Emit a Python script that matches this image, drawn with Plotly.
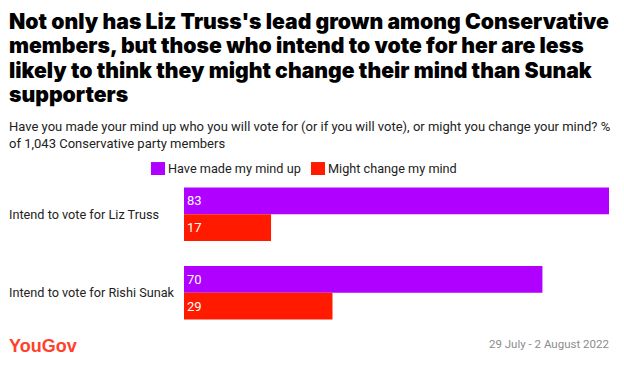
import plotly.graph_objects as go

categories = ["Intend to vote for Liz Truss", "Intend to vote for Rishi Sunak"]
made_up = [83, 70]
might_change = [17, 29]
series_names = ["Have made my mind up", "Might change my mind"]
colors = ["#b000ff", "#ff1a00"]

title_lines = ["Not only has Liz Truss's lead grown among Conservative",
               "members, but those who intend to vote for her are less",
               "likely to think they might change their mind than Sunak",
               "supporters"]
subtitle = ("Have you made your mind up who you will vote for (or if you will vote), or might you change your mind? %<br>"
            "of 1,043 Conservative party members")
date_text = "29 July - 2 August 2022"

W, H = 624, 371
OFF = 8  # page body margin
# plot area in screen pixels
PX0, PX1, PY0, PY1 = 184, 609, 175, 332.5
L = PX0 - OFF
R = W - (PX1 - OFF)
T = PY0 - OFF
B = H - (PY1 - OFF)
PW = W - L - R
PH = H - T - B


def sx(x):
    return (x - OFF - L) / PW


def sy(y):
    return 1 - (y - OFF - T) / PH


fig = go.Figure()
for name, vals, col in zip(series_names, [made_up, might_change], colors):
    fig.add_trace(go.Bar(
        y=categories, x=vals, name=name, orientation="h",
        marker=dict(color=col, line=dict(width=0)),
        text=[str(v) for v in vals], textposition="inside",
        insidetextanchor="start", textangle=0,
        textfont=dict(color="white", size=13, family="Roboto"),
        hoverinfo="skip",
    ))

fig.update_layout(
    width=W, height=H,
    margin=dict(l=L, r=R, t=T, b=B),
    paper_bgcolor="white", plot_bgcolor="white",
    barmode="group", bargap=0.316, bargroupgap=0,
    font=dict(family="Roboto", color="#222"),
    showlegend=False,
    xaxis=dict(range=[0, 83], visible=False, fixedrange=True),
    yaxis=dict(autorange="reversed", showticklabels=False, showgrid=False,
               zeroline=False, showline=False, ticks=""),
)

annotations = []
for i, line in enumerate(title_lines):
    annotations.append(dict(text=line, x=sx(7), y=sy(20.5 + 24.5 * i), xanchor="left", yanchor="middle",
                            align="left", font=dict(family="Inter", size=21.2, color="#000", weight=900)))
annotations += [
    dict(text=subtitle, x=sx(7), y=sy(116.5), xanchor="left", yanchor="top", align="left",
         font=dict(family="Roboto", size=13, color="#222")),
    dict(text="YouGov", x=sx(7), y=sy(347), xanchor="left", yanchor="middle",
         font=dict(family="Liberation Sans", size=18, color="#ff412c", weight=700)),
    dict(text=date_text, x=sx(611), y=sy(345), xanchor="right", yanchor="middle",
         font=dict(family="Roboto", size=11.5, color="#8c8c8c")),
]
for a in annotations:
    a.update(xref="paper", yref="paper", showarrow=False)

for c in categories:
    annotations.append(dict(text=c, x=sx(7), y=c, xref="paper", yref="y", xanchor="left",
                            yanchor="middle", showarrow=False,
                            font=dict(family="Roboto", size=12.7, color="#222")))

# manual legend
shapes = []
leg_x = [151, 311]
for name, col, lx in zip(series_names, colors, leg_x):
    shapes.append(dict(type="rect", xref="paper", yref="paper",
                       x0=sx(lx), x1=sx(lx + 14), y0=sy(162), y1=sy(175),
                       fillcolor=col, line=dict(width=0)))
    annotations.append(dict(text=name, x=sx(lx + 15), y=sy(168.5), xref="paper", yref="paper",
                            xanchor="left", yanchor="middle", showarrow=False,
                            font=dict(family="Roboto", size=12.7, color="#222")))

fig.update_layout(annotations=annotations, shapes=shapes)
fig.write_html("out.html")
